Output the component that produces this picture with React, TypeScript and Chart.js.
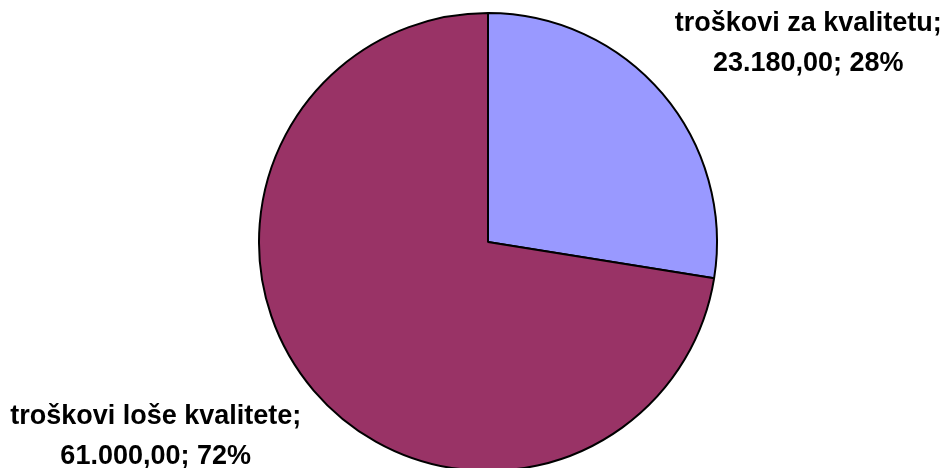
import React, { useEffect, useRef } from "react";
import { Chart, registerables } from "chart.js";

Chart.register(...registerables);

const categories = ["troškovi za kvalitetu", "troškovi loše kvalitete"];
const values = [23180, 61000];
const valueLabels = ["23.180,00", "61.000,00"];
const percentLabels = ["28%", "72%"];
const colors = ["#9999FF", "#993366"];

const labelPlugin = {
  id: "excelLabels",
  afterDraw(chart: any) {
    const ctx = chart.ctx;
    const meta = chart.getDatasetMeta(0);
    ctx.save();
    ctx.fillStyle = "#000";
    ctx.font = "bold 27px 'Liberation Sans', Arial, sans-serif";
    ctx.textAlign = "center";
    ctx.textBaseline = "alphabetic";
    meta.data.forEach((arc: any, i: number) => {
      const p = arc.getProps(["x", "y", "startAngle", "endAngle", "outerRadius"], true);
      const mid = (p.startAngle + p.endAngle) / 2;
      const ax = p.x + Math.cos(mid) * p.outerRadius;
      const ay = p.y + Math.sin(mid) * p.outerRadius;
      const right = Math.cos(mid) >= 0;
      const cx = right ? ax + 146 : ax - 158;
      const by = right ? ay - 62 : ay + 33;
      ctx.fillText(categories[i] + ";", cx, by);
      ctx.fillText(valueLabels[i] + "; " + percentLabels[i], cx, by + 40);
    });
    ctx.restore();
  },
};

export default function App() {
  const ref = useRef<HTMLCanvasElement>(null);
  useEffect(() => {
    document.body.style.margin = "0";
    const chart = new Chart(ref.current!, {
      type: "pie",
      data: {
        labels: categories,
        datasets: [
          {
            data: values,
            backgroundColor: colors,
            borderColor: "#000000",
            borderWidth: 2,
          },
        ],
      },
      options: {
        responsive: false,
        animation: false,
        layout: { padding: { top: 12, left: 32, right: 0, bottom: 0 } },
        plugins: { legend: { display: false }, tooltip: { enabled: false } },
      },
      plugins: [labelPlugin],
    });
    return () => chart.destroy();
  }, []);
  return (
    <div style={{ width: 944, height: 468, overflow: "hidden", background: "#fff" }}>
      <canvas ref={ref} width={944} height={472} />
    </div>
  );
}
